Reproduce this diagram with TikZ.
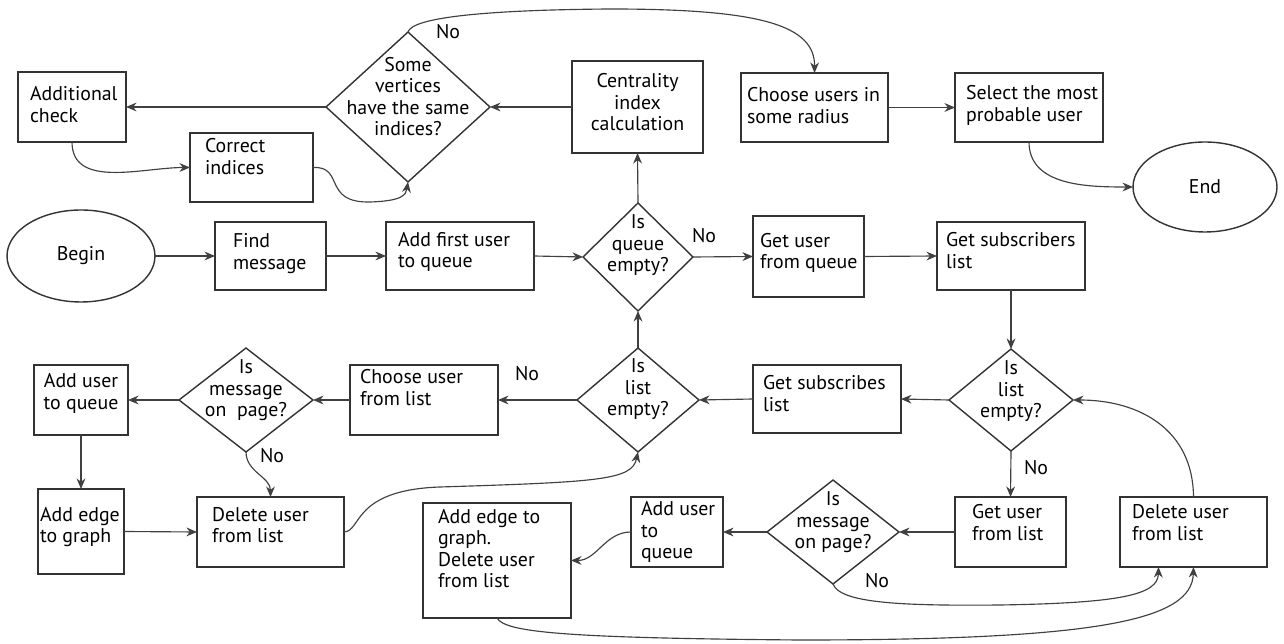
\documentclass[tikz,border=0pt]{standalone}
\usepackage{fontspec}
\setmainfont{PT Sans}
\usetikzlibrary{shapes.geometric,arrows.meta}
\tikzset{
 box/.style={draw=black!80, line width=0.8pt, inner sep=0pt, outer sep=0pt, rectangle},
 dec/.style={draw=black!80, line width=0.8pt, diamond, inner sep=0pt, outer sep=0pt},
 term/.style={draw=black!80, line width=0.8pt, ellipse, inner sep=0pt, outer sep=0pt},
 ar/.style={draw=black!75, line width=0.65pt, -{Stealth[length=6pt,width=5pt]}},
 lbl/.style={inner sep=0pt},
}
\newcommand\bx[9][l]{%
 \pgfmathsetmacro\bxw{(#5-#3)*0.02}%
 \pgfmathsetmacro\bxh{(#6-#4)*0.02}%
 \pgfmathsetmacro\bxcx{(#3+#5)/2}%
 \pgfmathsetmacro\bxcy{(#4+#6)/2}%
 \pgfmathsetmacro\bxt{max(0,(\bxcx-#7)*0.04)}%
 \pgfmathsetmacro\bxr{(\bxcy-#8)*0.569-2.8}%
 \node[box, minimum width=\bxw cm, minimum height=\bxh cm] (#2) at (\bxcx,\bxcy)
 {\raisebox{\bxr pt}[0pt][0pt]{\makebox[\bxt cm][#1]{\begin{tabular}{@{}#1@{}}#9\end{tabular}}}};}
\newcommand\dia[7]{%
 \pgfmathsetmacro\dw{#4*0.04}%
 \pgfmathsetmacro\dh{#5*0.04}%
 \pgfmathsetmacro\dr{(#3-#6)*0.569-2.8}%
 \node[dec, minimum width=\dw cm, minimum height=\dh cm] (#1) at (#2,#3)
 {\raisebox{\dr pt}[0pt][0pt]{\makebox[0pt][c]{\begin{tabular}{@{}c@{}}#7\end{tabular}}}};}
\begin{document}
\begin{tikzpicture}[x=0.02cm, y=-0.02cm, font=\fontsize{11.3}{12.2}\selectfont]
\fill[white] (0,0) rectangle (1284,644);
\useasboundingbox (0,0) rectangle (1284,644);

\bx{addchk}{18}{72}{126}{142}{30}{107}{Additional\\check}
\bx{cor}{190}{133}{313}{202}{205}{159}{Correct\\indices}
\dia{dv}{408}{107}{82}{75}{99}{Some\\vertices\\have the same\\indices?}
\bx[c]{cent}{572}{61}{703}{153}{999}{105}{Centrality\\index\\calculation}
\bx{chu}{741}{73}{888}{142}{747}{108}{Choose users in\\some radius}
\bx{sel}{955}{73}{1103}{142}{966}{106}{Select the most\\probable user}
\node[term, minimum width=2.88cm, minimum height=1.8cm] (endn) at (1205,187) {End};
\node[term, minimum width=2.96cm, minimum height=1.84cm] (begin) at (81,256) {Begin};
\bx{find}{215}{222}{326}{290}{233}{254}{Find\\message}
\bx{addf}{386}{222}{534}{290}{398}{252.5}{Add first user\\to queue}
\dia{qd}{638}{257}{55}{54}{246}{Is\\queue\\empty?}
\bx{getq}{753}{216}{864}{297}{760}{253.5}{Get user\\from queue}
\bx{gets}{937}{222}{1085}{290}{946}{253}{Get subscribers\\list}
\dia{rld}{1011}{400}{62}{51}{392}{Is\\list\\empty?}
\bx{gets2}{753}{365}{901}{433}{763}{396}{Get subscribes\\list}
\dia{ld}{638}{400}{61}{52}{390}{Is\\list\\empty?}
\bx{chul}{350}{365}{498}{435}{360}{390}{Choose user\\from list}
\dia{md1}{246}{400}{67}{52}{391}{Is\\message\\on\ \ page?}
\bx[c]{addq1}{34}{365}{128}{435}{999}{394}{Add user\\to queue}
\bx{adde1}{38}{489}{124}{574}{40}{527.5}{Add edge\\to graph}
\bx{del1}{197}{497}{344}{567}{212}{527.5}{Delete user\\from list}
\bx{adde2}{423}{503}{571}{618}{438}{551}{Add edge to\\graph.\\Delete user\\from list}
\bx{addq2}{631}{497}{723}{567}{641}{533}{Add user\\to\\queue}
\dia{md2}{833}{532}{66}{52}{523}{Is\\message\\on page?}
\bx{getl}{955}{497}{1066}{567}{972}{525}{Get user\\from list}
\bx{delR}{1120}{497}{1267}{567}{1132}{525}{Delete user\\from list}

\node[lbl] (no1) at (704,236) {No};
\node[lbl] (no2) at (527,374) {No};
\node[lbl] (no3) at (448,32) {No};
\node[lbl] (no4) at (272,456) {No};
\node[lbl] (no5) at (1036,468) {No};
\node[lbl] (no6) at (877,581) {No};

\draw[ar] (begin.east) -- (find.west);
\draw[ar] (find.east) -- (addf.west);
\draw[ar] (addf.east) -- (qd.west);
\draw[ar] (qd.east) -- (getq.west);
\draw[ar] (getq.east) -- (gets.west);
\draw[ar] (gets.south) -- (rld.north);
\draw[ar] (rld.west) -- (gets2.east);
\draw[ar] (rld.south) -- (getl.north);
\draw[ar] (getl.west) -- (md2.east);
\draw[ar] (md2.west) -- (addq2.east);
\draw[ar] (addq2.west) to[out=180,in=0] (adde2.east);
\draw[ar] (md2.south) .. controls (840,603) and (900,606) .. (1000,605) .. controls (1120,603) and (1158,595) .. ([xshift=-0.7cm]delR.south);
\draw[ar] (adde2.south) .. controls (505,632) and (560,638) .. (800,640) .. controls (1100,640) and (1192,620) .. (delR.south);
\draw[ar] (delR.north) .. controls (1193,430) and (1140,400) .. (rld.east);
\draw[ar] (gets2.west) -- (ld.east);
\draw[ar] (ld.west) -- (chul.east);
\draw[ar] (ld.north) -- (qd.south);
\draw[ar] (chul.west) -- (md1.east);
\draw[ar] (md1.west) -- (addq1.east);
\draw[ar] (addq1.south) -- (adde1.north);
\draw[ar] (md1.south) to[out=-90,in=90] (del1.north);
\draw[ar] (adde1.east) -- (del1.west);
\draw[ar] (del1.east) .. controls (362,531) and (352,490) .. (440,487) .. controls (600,482) and (632,480) .. (ld.south);
\draw[ar] (qd.north) -- (cent.south);
\draw[ar] (cent.west) -- (dv.east);
\draw[ar] (dv.west) -- (addchk.east);
\draw[ar] (addchk.south) to[out=-90,in=180] (cor.west);
\draw[ar] (cor.east) .. controls (345,166) and (322,203) .. (370,202) .. controls (402,201) and (406,195) .. (dv.south);
\draw[ar] (dv.north) .. controls (412,18) and (480,10) .. (610,9) .. controls (760,9) and (815,25) .. (chu.north);
\draw[ar] (chu.east) -- (sel.west);
\draw[ar] (sel.south) to[out=-90,in=180] (endn.west);
\end{tikzpicture}
\end{document}
